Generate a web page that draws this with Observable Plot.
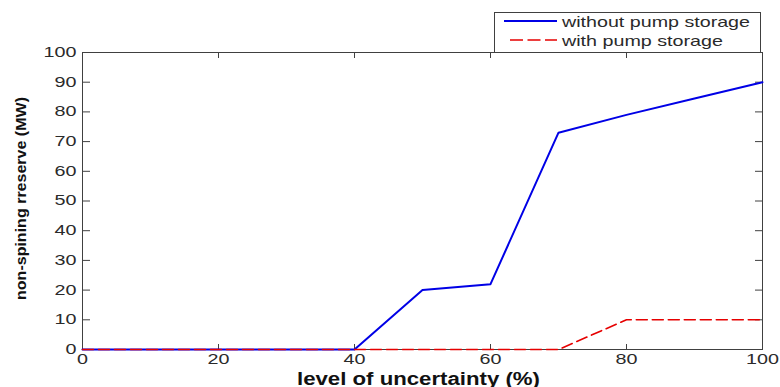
<!DOCTYPE html>
<html><head><meta charset="utf-8">
<script src="https://cdn.jsdelivr.net/npm/d3@7"></script>
<script src="https://cdn.jsdelivr.net/npm/@observablehq/plot@0.6"></script>
<style>
body{margin:0;background:#fff;}
#chart{position:relative;width:780px;height:387px;}
</style></head><body><div id="chart"></div>
<script>
const uncertainty = [0, 10, 20, 30, 40, 50, 60, 70, 80, 90, 100];
const withoutPump = [0, 0, 0, 0, 0, 20, 22, 73, 79, 84.5, 90];
const withPump = [0, 0, 0, 0, 0, 0, 0, 0, 10, 10, 10];
const xTicks = [0, 20, 40, 60, 80, 100];
const yTicks = [0, 10, 20, 30, 40, 50, 60, 70, 80, 90, 100];
const seriesNames = ["without pump storage", "with pump storage"];
const xLabel = "level of uncertainty (%)";
const yLabel = "non-spining rreserve (MW)";

const rows = uncertainty.map((u, i) => ({u, without: withoutPump[i], with: withPump[i]}));
const axisColor = "#404040";
const blue = "#0000e6", red = "#e60000";

const plot = Plot.plot({
  width: 780, height: 387,
  marginLeft: 82, marginRight: 18, marginTop: 52, marginBottom: 38,
  style: {fontFamily: "'Liberation Sans', Arial, sans-serif", background: "#fff", color: axisColor, overflow: "visible"},
  x: {domain: [0, 100]},
  y: {domain: [0, 100]},
  marks: [
    Plot.frame({stroke: axisColor}),
    Plot.axisX(xTicks, {anchor: "bottom", tickSize: 5, dy: -5, text: null, label: null}),
    Plot.axisX(xTicks, {anchor: "top", tickSize: 5, dy: 5, text: null, label: null}),
    Plot.axisY(yTicks, {anchor: "left", tickSize: 8, dx: 8, text: null, label: null}),
    Plot.axisY(yTicks, {anchor: "right", tickSize: 8, dx: -8, text: null, label: null}),
    Plot.axisX(xTicks, {anchor: "bottom", tickSize: 0, tickPadding: 5, fontSize: 14, label: null, fill: "#2a2a2a"}),
    Plot.axisY(yTicks, {anchor: "left", tickSize: 0, tickPadding: 6, fontSize: 14, label: null, fill: "#2a2a2a"}),
    Plot.line(rows, {x: "u", y: "without", stroke: blue, strokeWidth: 2}),
    Plot.line(rows, {x: "u", y: "with", stroke: red, strokeWidth: 1.6, strokeDasharray: "11,5"}),
    Plot.text([xLabel], {frameAnchor: "bottom", text: d => d, dy: 35, dx: -4, textAnchor: "middle", lineAnchor: "bottom", fontWeight: "bold", fontSize: 18, fill: "#111"}),
    Plot.text([yLabel], {frameAnchor: "left", text: d => d, rotate: -90, dx: -61, dy: -2.5, textAnchor: "middle", lineAnchor: "middle", fontWeight: "bold", fontSize: 15, fill: "#111"})
  ]
});
document.getElementById("chart").appendChild(plot);

function fit(t, target) {
  t.setAttribute("textLength", target);
  t.setAttribute("lengthAdjust", "spacingAndGlyphs");
}
plot.querySelectorAll('[aria-label="x-axis tick label"] text, [aria-label="y-axis tick label"] text')
  .forEach(t => fit(t, t.getComputedTextLength() * 1.41));
plot.querySelectorAll("text").forEach(t => {
  if (t.textContent === xLabel) fit(t, 243);
  if (t.textContent === yLabel) fit(t, 203);
});

// legend
const svg = d3.select(plot);
const lg = svg.append("g").attr("aria-label", "legend").attr("text-anchor", "start");
lg.append("rect").attr("x", 494.5).attr("y", 12.5).attr("width", 266).attr("height", 40)
  .attr("fill", "#fff").attr("stroke", axisColor);
const entries = [
  {name: seriesNames[0], color: blue, dash: null, sw: 2, y: 21, x1: 504, tl: 188, ty: 27},
  {name: seriesNames[1], color: red, dash: "13,4.5", sw: 1.6, y: 40, x1: 510, tl: 161, ty: 46}
];
entries.forEach(e => {
  lg.append("line").attr("x1", e.x1).attr("x2", 557).attr("y1", e.y).attr("y2", e.y)
    .attr("stroke", e.color).attr("stroke-width", e.sw).attr("stroke-dasharray", e.dash);
  const t = lg.append("text").attr("x", 562).attr("y", e.ty).attr("font-size", 15)
    .attr("text-anchor", "start").attr("fill", "#2a2a2a").text(e.name);
  fit(t.node(), e.tl);
});
</script></body></html>
